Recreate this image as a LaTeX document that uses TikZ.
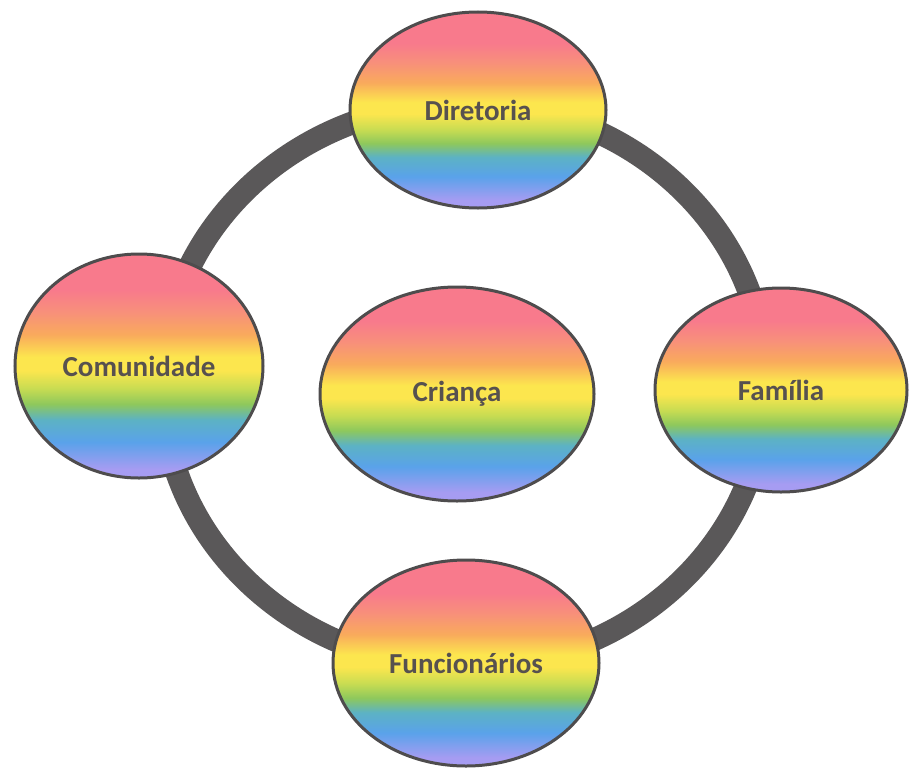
\documentclass[tikz,border=0pt]{standalone}
\usepackage{fontspec}
\setmainfont{Carlito}
\usetikzlibrary{shapes.geometric}
\definecolor{rbpink}{HTML}{F87A8C}
\definecolor{rbsalmon}{HTML}{F8907A}
\definecolor{rborange}{HTML}{F9AA5C}
\definecolor{rbyellow}{HTML}{FCE64E}
\definecolor{rbygreen}{HTML}{C8DC52}
\definecolor{rbgreen}{HTML}{8EC85C}
\definecolor{rbteal}{HTML}{5CB2C4}
\definecolor{rbblue}{HTML}{5AA2EA}
\definecolor{rbpurple}{HTML}{A69CF2}
\definecolor{ringgray}{HTML}{5A5859}
\definecolor{edgegray}{HTML}{4E4C4D}
\definecolor{textgray}{HTML}{57514F}
\pgfdeclareverticalshading{rainbow}{100bp}{%
  color(0bp)=(rbpurple);
  color(25bp)=(rbpurple);
  color(27bp)=(rbpurple);
  color(33bp)=(rbblue);
  color(38bp)=(rbteal);
  color(41.5bp)=(rbgreen);
  color(45bp)=(rbygreen);
  color(49bp)=(rbyellow);
  color(52bp)=(rbyellow);
  color(57bp)=(rborange);
  color(62bp)=(rbsalmon);
  color(67bp)=(rbpink);
  color(75bp)=(rbpink);
  color(100bp)=(rbpink)}
\tikzset{
  bubble/.style={ellipse, draw=edgegray, line width=3bp, shading=rainbow,
    inner sep=0pt, text=textgray,
    font=\fontsize{29bp}{34bp}\selectfont\bfseries},
  ring/.style={draw=ringgray, line width=23bp}
}
\begin{document}
\begin{tikzpicture}[x=1bp,y=1bp]
\useasboundingbox (0,0) rectangle (909,-769);
\draw[ring] (464,-385) ellipse [x radius=302, y radius=282];
\node[bubble, minimum width=256bp, minimum height=196bp] (dir) at (478,-110) {Diretoria};
\node[bubble, minimum width=248bp, minimum height=224bp] (com) at (139,-366) {Comunidade};
\node[bubble, minimum width=274bp, minimum height=214bp] (cri) at (457,-394) {Criança};
\node[bubble, minimum width=252bp, minimum height=204bp] (fam) at (781,-390) {Família};
\node[bubble, minimum width=266bp, minimum height=206bp] (fun) at (466,-663) {Funcionários};
\end{tikzpicture}
\end{document}
